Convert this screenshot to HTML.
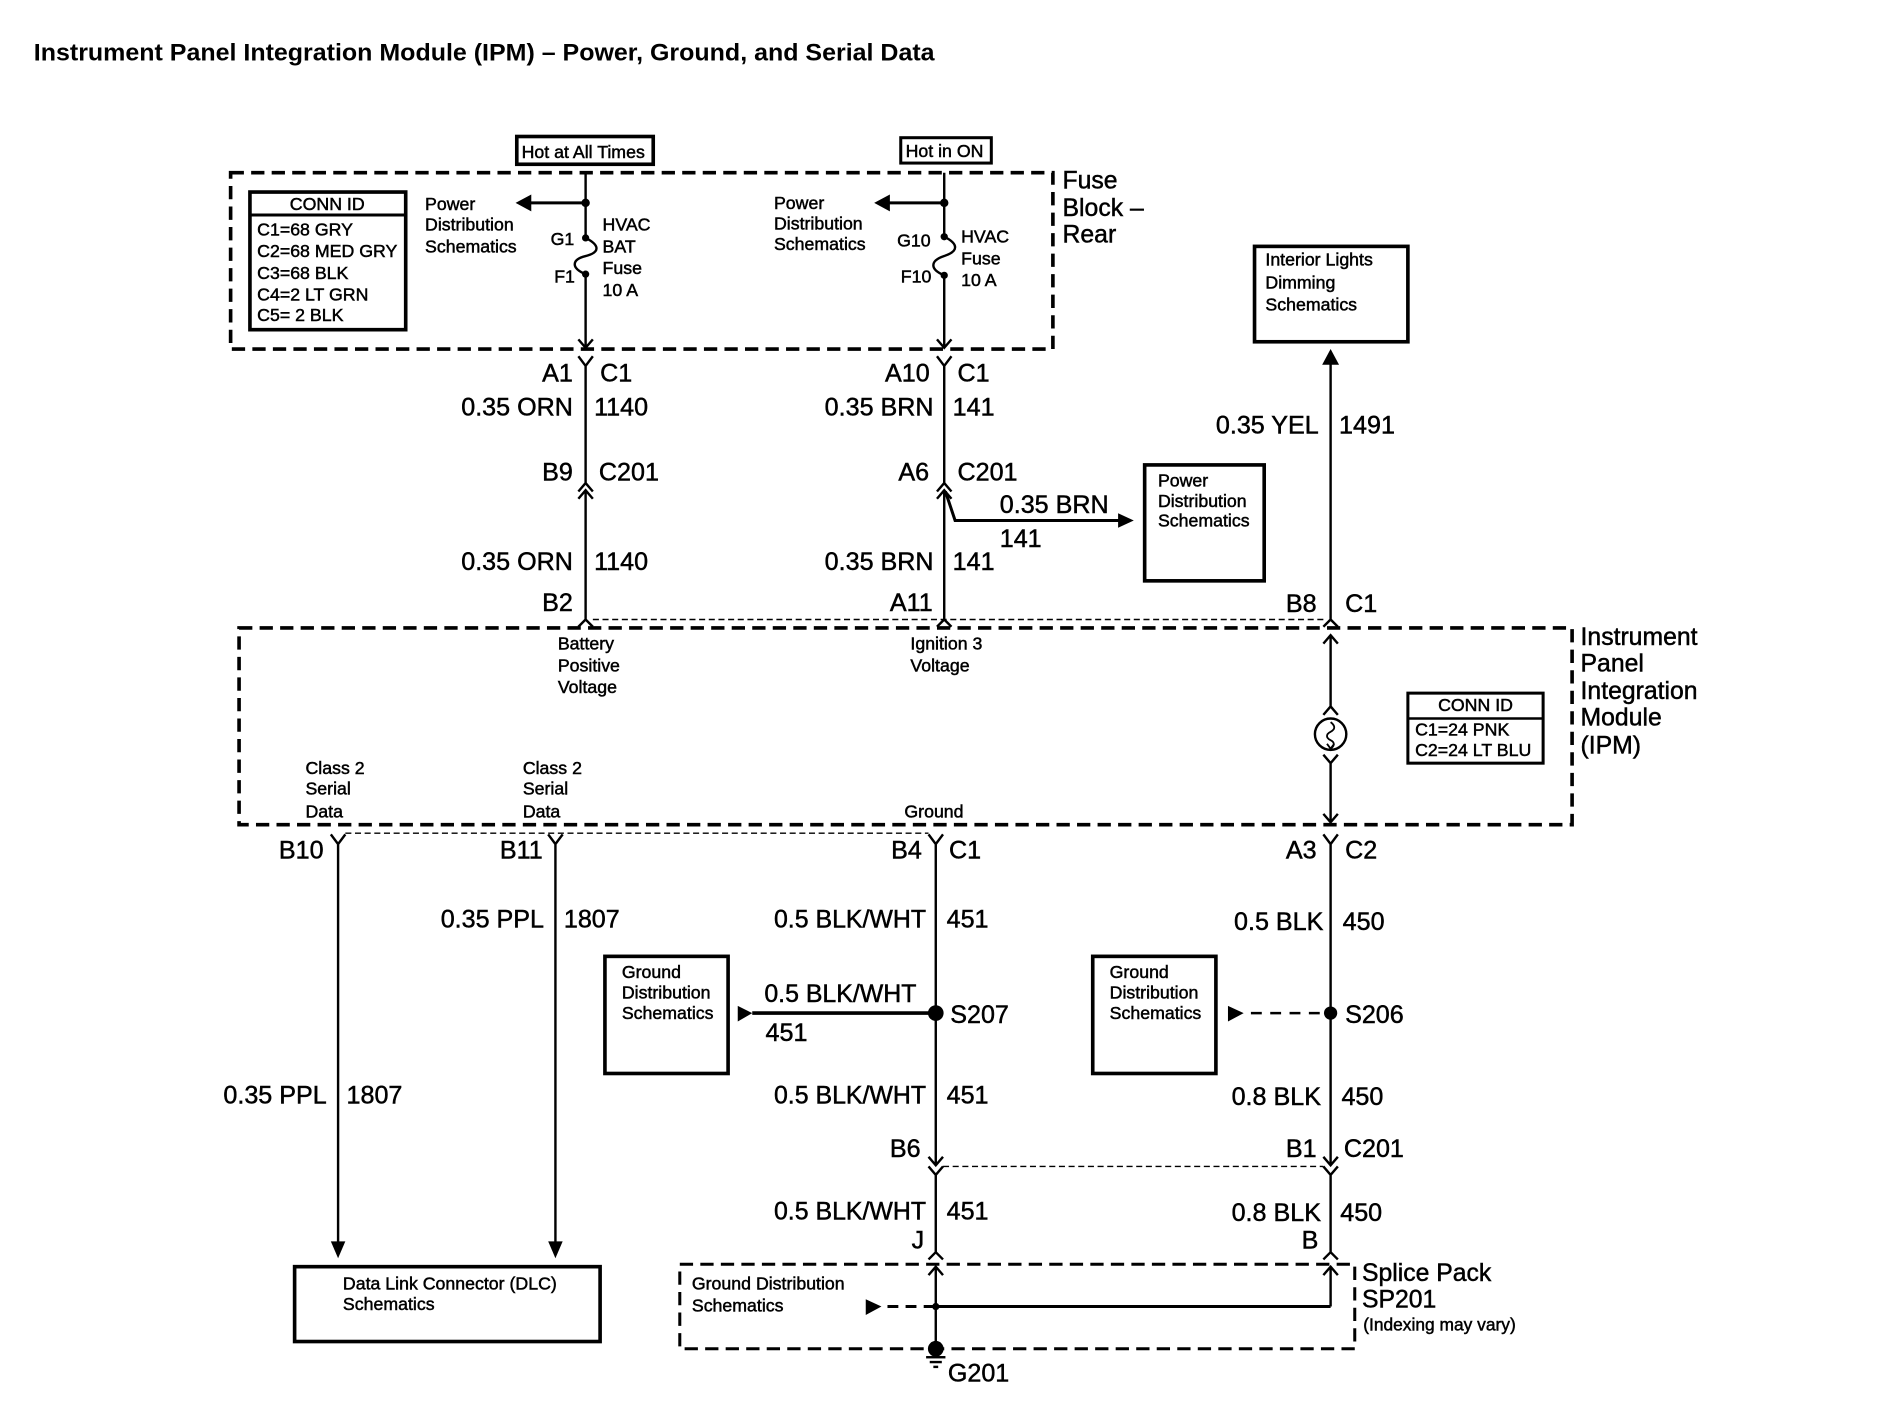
<!DOCTYPE html>
<html><head><meta charset="utf-8"><style>
html,body{margin:0;padding:0;background:#fff}
svg{display:block}
text{font-family:"Liberation Sans",sans-serif;fill:#000;stroke:#000;stroke-width:.4}
.w{font-size:20.8px}.s{font-size:14.7px}.l{font-size:20.5px}
.t{fill:none;stroke:#000;stroke-width:2}
.b{fill:#fff;stroke:#000;stroke-width:3}
.d{fill:none;stroke:#000;stroke-width:3;stroke-dasharray:11 6}
.h{fill:none;stroke:#000;stroke-width:1.2;stroke-dasharray:5 3}
.f{fill:#000;stroke:none}
</style></head><body>
<svg width="1894" height="1408" viewBox="0 0 1568.6 1166" xmlns="http://www.w3.org/2000/svg">
<rect width="1568.6" height="1166" fill="#fff"/>
<text x="28" y="50" font-size="20" font-weight="bold" textLength="746" lengthAdjust="spacingAndGlyphs" style="stroke-width:0">Instrument Panel Integration Module (IPM) – Power, Ground, and Serial Data</text>

<!-- dashed containers -->
<rect class="d" x="191" y="143" width="681" height="146"/>
<rect class="d" x="198" y="520" width="1104" height="163"/>
<rect class="d" x="563" y="1047" width="559" height="70" style="stroke-width:2.5"/>
<path class="h" d="M491 513H1096M286 690H769M781 966H1096"/>

<!-- boxes -->
<rect class="b" x="428" y="113" width="113" height="23"/>
<rect class="b" x="746" y="114" width="75" height="21" style="stroke-width:2.5"/>
<rect class="b" x="207" y="159" width="129" height="114"/>
<path class="t" d="M207 178H336" style="stroke-width:2.5"/>
<rect class="b" x="1039" y="204" width="127" height="79"/>
<rect class="b" x="948" y="385" width="99" height="96"/>
<rect class="b" x="1166" y="574" width="112" height="58" style="stroke-width:2.5"/>
<path class="t" d="M1166 595H1278"/>
<rect class="b" x="501" y="792" width="102" height="97"/>
<rect class="b" x="905" y="792" width="102" height="97"/>
<rect class="b" x="244" y="1049" width="253" height="62"/>

<!-- wires -->
<g class="t">
<path d="M485 143V197M485 227V288M479 281L485 288L491 281"/>
<path d="M782 143V196M782 228V288M776 281L782 288L788 281"/>
<path d="M485 168H436M782 168H733" style="stroke-width:2.5"/>
<path d="M485 197C497 203 497 209 485 212C473 215 473 222 485 227"/>
<path d="M782 196C794 202 794 208 782 212C770 216 770 223 782 228"/>
<path d="M479 295L485 303L491 295M485 303V400M479 407L485 400L491 407"/>
<path d="M479 413L485 406L491 413M485 406V513M479 519L485 513L491 519"/>
<path d="M776 295L782 303L788 295M782 303V400M776 407L782 400L788 407"/>
<path d="M776 413L782 406L788 413M782 406V513M776 519L782 513L788 519"/>
<path d="M783 407L791 431H930" style="stroke-width:2.5"/>
<path d="M1102 300V513M1096 519L1102 513L1108 519"/>
<path d="M1096 533L1102 526L1108 533M1102 526V585M1096 592L1102 585L1108 592"/>
<path d="M1096 625L1102 632L1108 625M1102 632V681M1096 674L1102 681L1108 674"/>
<path d="M1096 691L1102 699L1108 691M1102 699V965M1096 958L1102 965L1108 958"/>
<path d="M1096 966L1102 973L1108 966M1102 973V1037M1096 1043L1102 1037L1108 1043"/>
<path d="M1096 1056L1102 1049L1108 1056M1102 1049V1082"/>
<path d="M274 691L280 699L286 691M280 699V1032"/>
<path d="M454 691L460 699L466 691M460 699V1032"/>
<path d="M769 691L775 699L781 691M775 699V965M769 958L775 965L781 958"/>
<path d="M769 966L775 973L781 966M775 973V1037M769 1043L775 1037L781 1043"/>
<path d="M769 1056L775 1049L781 1056M775 1049V1124"/>
<path d="M623 839H775" style="stroke-width:3"/>
<path d="M1036 839H1102" style="stroke-width:2;stroke-dasharray:9 7"/>
<path d="M775 1082H1102" style="stroke-width:2.5"/>
<path d="M735 1082H775" style="stroke-width:2.5;stroke-dasharray:9 6"/>
<circle cx="1102" cy="608" r="13"/>
<path d="M1102 598C1106 601 1106 604 1102 606C1098 608 1098 611 1102 613C1106 615 1105 618 1102 620M1099 616L1102 620L1105 616" style="stroke-width:1.5"/>
</g>

<!-- arrowheads and dots -->
<g class="f">
<path d="M427 168L440 161V175Z"/>
<path d="M724 168L737 161V175Z"/>
<path d="M939 431L926 425V437Z"/>
<path d="M1102 289L1095 302H1109Z"/>
<path d="M280 1042L274 1028H286Z"/>
<path d="M460 1042L454 1028H466Z"/>
<path d="M623 839L611 833V846Z"/>
<path d="M1030 839L1017 833V846Z"/>
<path d="M730 1082L717 1076V1089Z"/>
<circle cx="485" cy="168" r="3.5"/><circle cx="782" cy="168" r="3.5"/>
<circle cx="485" cy="197" r="3"/><circle cx="485" cy="227" r="3"/>
<circle cx="782" cy="196" r="3"/><circle cx="782" cy="228" r="3"/>
<circle cx="775" cy="839" r="6.5"/><circle cx="1102" cy="839" r="5.5"/>
<circle cx="775" cy="1082" r="3"/><circle cx="775" cy="1117" r="6.5"/>
<rect x="767" y="1123" width="16" height="2"/><rect x="770" y="1127" width="10" height="2"/><rect x="773" y="1131" width="4" height="2"/>
</g>

<!-- container labels -->
<g class="l">
<text x="880" y="156">Fuse</text><text x="880" y="179">Block –</text><text x="880" y="201">Rear</text>
<text x="1309" y="534">Instrument</text><text x="1309" y="556">Panel</text><text x="1309" y="579">Integration</text><text x="1309" y="601">Module</text><text x="1309" y="624">(IPM)</text>
<text x="1128" y="1061">Splice Pack</text><text x="1128" y="1083">SP201</text>
</g>
<text x="1129" y="1102" font-size="14.4">(Indexing may vary)</text>

<!-- small labels -->
<g class="s">
<text x="432" y="131">Hot at All Times</text>
<text x="750" y="130">Hot in ON</text>
<text x="240" y="174">CONN ID</text>
<text x="213" y="195">C1=68 GRY</text><text x="213" y="213">C2=68 MED GRY</text><text x="213" y="231">C3=68 BLK</text><text x="213" y="249">C4=2 LT GRN</text><text x="213" y="266">C5= 2 BLK</text>
<text x="352" y="174">Power</text><text x="352" y="191">Distribution</text><text x="352" y="209">Schematics</text>
<text x="641" y="173">Power</text><text x="641" y="190">Distribution</text><text x="641" y="207">Schematics</text>
<text x="499" y="191">HVAC</text><text x="499" y="209">BAT</text><text x="499" y="227">Fuse</text><text x="499" y="245">10 A</text>
<text x="456" y="203">G1</text><text x="459" y="234">F1</text>
<text x="796" y="201">HVAC</text><text x="796" y="219">Fuse</text><text x="796" y="237">10 A</text>
<text x="743" y="204">G10</text><text x="746" y="234">F10</text>
<text x="1048" y="220">Interior Lights</text><text x="1048" y="239">Dimming</text><text x="1048" y="257">Schematics</text>
<text x="959" y="403">Power</text><text x="959" y="420">Distribution</text><text x="959" y="436">Schematics</text>
<text x="462" y="538">Battery</text><text x="462" y="556">Positive</text><text x="462" y="574">Voltage</text>
<text x="754" y="538">Ignition 3</text><text x="754" y="556">Voltage</text>
<text x="253" y="641">Class 2</text><text x="253" y="658">Serial</text><text x="253" y="677">Data</text>
<text x="433" y="641">Class 2</text><text x="433" y="658">Serial</text><text x="433" y="677">Data</text>
<text x="749" y="677">Ground</text>
<text x="1191" y="589">CONN ID</text>
<text x="1172" y="609">C1=24 PNK</text><text x="1172" y="626">C2=24 LT BLU</text>
<text x="515" y="810">Ground</text><text x="515" y="827">Distribution</text><text x="515" y="844">Schematics</text>
<text x="919" y="810">Ground</text><text x="919" y="827">Distribution</text><text x="919" y="844">Schematics</text>
<text x="284" y="1068">Data Link Connector (DLC)</text><text x="284" y="1085">Schematics</text>
<text x="573" y="1068">Ground Distribution</text><text x="573" y="1086">Schematics</text>
</g>

<!-- wire labels -->
<g class="w">
<text x="449" y="316">A1</text><text x="497" y="316">C1</text>
<text x="382" y="344">0.35 ORN</text><text x="492" y="344">1140</text>
<text x="449" y="398">B9</text><text x="496" y="398">C201</text>
<text x="382" y="472">0.35 ORN</text><text x="492" y="472">1140</text>
<text x="449" y="506">B2</text>
<text x="733" y="316">A10</text><text x="793" y="316">C1</text>
<text x="683" y="344">0.35 BRN</text><text x="789" y="344">141</text>
<text x="744" y="398">A6</text><text x="793" y="398">C201</text>
<text x="828" y="425">0.35 BRN</text><text x="828" y="453">141</text>
<text x="683" y="472">0.35 BRN</text><text x="789" y="472">141</text>
<text x="737" y="506">A11</text>
<text x="1007" y="359">0.35 YEL</text><text x="1109" y="359">1491</text>
<text x="1065" y="507">B8</text><text x="1114" y="507">C1</text>
<text x="231" y="711">B10</text><text x="414" y="711">B11</text>
<text x="738" y="711">B4</text><text x="786" y="711">C1</text>
<text x="1065" y="711">A3</text><text x="1114" y="711">C2</text>
<text x="365" y="768">0.35 PPL</text><text x="467" y="768">1807</text>
<text x="641" y="768" textLength="126" lengthAdjust="spacingAndGlyphs">0.5 BLK/WHT</text><text x="784" y="768">451</text>
<text x="1022" y="770">0.5 BLK</text><text x="1112" y="770">450</text>
<text x="633" y="830" textLength="126" lengthAdjust="spacingAndGlyphs">0.5 BLK/WHT</text><text x="634" y="862">451</text>
<text x="787" y="847">S207</text><text x="1114" y="847">S206</text>
<text x="185" y="914">0.35 PPL</text><text x="287" y="914">1807</text>
<text x="641" y="914" textLength="126" lengthAdjust="spacingAndGlyphs">0.5 BLK/WHT</text><text x="784" y="914">451</text>
<text x="1020" y="915">0.8 BLK</text><text x="1111" y="915">450</text>
<text x="737" y="958">B6</text><text x="1065" y="958">B1</text><text x="1113" y="958">C201</text>
<text x="641" y="1010" textLength="126" lengthAdjust="spacingAndGlyphs">0.5 BLK/WHT</text><text x="784" y="1010">451</text>
<text x="1020" y="1011">0.8 BLK</text><text x="1110" y="1011">450</text>
<text x="755" y="1034">J</text><text x="1078" y="1034">B</text>
<text x="785" y="1144">G201</text>
</g>
</svg>
</body></html>
